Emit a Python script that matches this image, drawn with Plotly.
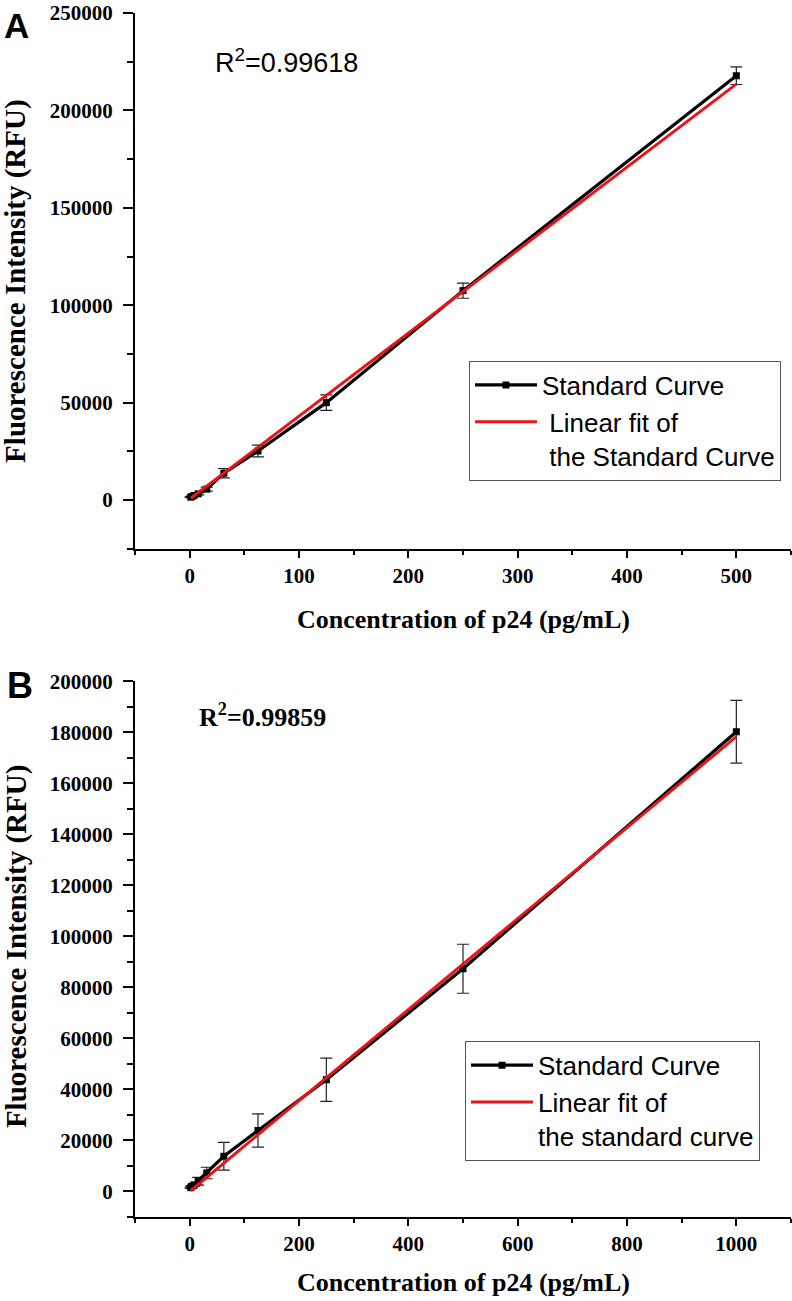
import plotly.graph_objects as go

# ---------------- data ----------------
conc_a = [0.98, 1.95, 3.9, 7.8, 15.6, 31.25, 62.5, 125, 250, 500]
rfu_a = [1500, 1800, 2300, 3200, 5600, 13800, 25200, 50000, 107500, 217800]
err_a = [300, 300, 400, 500, 1000, 2400, 3000, 4000, 3900, 4500]
fit_x_a = [0.98, 500]
fit_y_a = [900, 213500]

conc_b = [1.95, 3.9, 7.8, 15.6, 31.25, 62.5, 125, 250, 500, 1000]
rfu_b = [1500, 1900, 2600, 4000, 7250, 13800, 23900, 43800, 87300, 180200]
err_b = [300, 400, 600, 1500, 2250, 5450, 6500, 8450, 9600, 12300]
fit_x_b = [1.95, 1000]
fit_y_b = [300, 178300]

# ---------------- geometry helpers ----------------
W, H = 792, 1301
ML, MR, MT, MB = 135, 1, 8, 84
PW, PH = W - ML - MR, H - MT - MB


def px(x):
    return (x - ML) / PW


def py(y):
    return (H - MB - y) / PH


SERIF = "Liberation Serif, Times New Roman, serif"
SANS = "Liberation Sans, Arial, sans-serif"

fig = go.Figure()

# Panel A
fig.add_trace(go.Scatter(
    x=conc_a, y=rfu_a, mode="lines+markers", name="Standard Curve",
    line=dict(color="black", width=3.2),
    marker=dict(symbol="square", size=7, color="black"),
    error_y=dict(type="data", array=err_a, visible=True, color="#222", thickness=1.2, width=6),
    xaxis="x", yaxis="y", legend="legend"))
fig.add_trace(go.Scatter(
    x=fit_x_a, y=fit_y_a, mode="lines",
    name="\u00a0Linear fit of<br>\u00a0the Standard Curve",
    line=dict(color="#e8141b", width=3),
    xaxis="x", yaxis="y", legend="legend"))

# Panel B
fig.add_trace(go.Scatter(
    x=conc_b, y=rfu_b, mode="lines+markers", name="Standard Curve",
    line=dict(color="black", width=3.2),
    marker=dict(symbol="square", size=7, color="black"),
    error_y=dict(type="data", array=err_b, visible=True, color="#222", thickness=1.2, width=6),
    xaxis="x2", yaxis="y2", legend="legend2"))
fig.add_trace(go.Scatter(
    x=fit_x_b, y=fit_y_b, mode="lines",
    name="Linear fit of<br>the standard curve",
    line=dict(color="#e8141b", width=3),
    xaxis="x2", yaxis="y2", legend="legend2"))

tickfont = dict(family=SERIF, size=21, color="black", weight="bold")


def xaxis_cfg(rng, dtick, mdtick, anchor):
    return dict(range=rng, dtick=dtick, tick0=0, showline=True, linecolor="black", linewidth=2,
                ticks="outside", ticklen=7, tickwidth=2, tickcolor="black",
                minor=dict(dtick=mdtick, tick0=0, ticks="outside", ticklen=4, tickwidth=2, tickcolor="black"),
                showgrid=False, zeroline=False, tickfont=tickfont, anchor=anchor,
                tickformat="d", domain=[0, 1])


def yaxis_cfg(rng, dtick, mdtick, anchor, dom):
    return dict(range=rng, dtick=dtick, tick0=0, showline=True, linecolor="black", linewidth=2,
                ticks="outside", ticklen=10, tickwidth=2, tickcolor="black",
                minor=dict(dtick=mdtick, tick0=0, ticks="outside", ticklen=6, tickwidth=2, tickcolor="black"),
                showgrid=False, zeroline=False, tickfont=tickfont, anchor=anchor,
                tickformat="d", domain=dom, ticklabelstandoff=6)


legend_common = dict(xanchor="left", yanchor="top", bordercolor="#555", borderwidth=1,
                     bgcolor="white", font=dict(family=SANS, size=26, color="black"),
                     itemwidth=62, valign="top", tracegroupgap=0)

fig.update_layout(
    width=W, height=H,
    margin=dict(l=ML, r=MR, t=MT, b=MB),
    paper_bgcolor="white", plot_bgcolor="white",
    xaxis=xaxis_cfg([-50, 550], 100, 50, "y"),
    yaxis=yaxis_cfg([-25000, 250000], 50000, 25000, "x", [py(546), py(8)]),
    xaxis2=xaxis_cfg([-100, 1100], 200, 100, "y2"),
    yaxis2=yaxis_cfg([-10000, 200000], 20000, 10000, "x2", [py(1217), py(679)]),
    legend=dict(x=px(469), y=py(357), **legend_common),
    legend2=dict(x=px(465), y=py(1040), **legend_common),
    showlegend=True,
)

annots = [
    dict(text="A", x=px(16), y=py(21), font=dict(family=SANS, size=35, color="black", weight="bold")),
    dict(text="B", x=px(20), y=py(683), font=dict(family=SANS, size=36, color="black", weight="bold")),
    dict(text="R<sup>2</sup>=0.99618", x=px(286), y=py(56), font=dict(family=SANS, size=27, color="black")),
    dict(text="R<sup>2</sup>=0.99859", x=px(262), y=py(713),
         font=dict(family=SERIF, size=26, color="black", weight="bold")),
    dict(text="Concentration of p24 (pg/mL)", x=px(463), y=py(617),
         font=dict(family=SERIF, size=26, color="black", weight="bold")),
    dict(text="Concentration of p24 (pg/mL)", x=px(463), y=py(1283),
         font=dict(family=SERIF, size=26, color="black", weight="bold")),
    dict(text="Fluorescence Intensity (RFU)", x=px(16), y=py(277), textangle=-90,
         font=dict(family=SERIF, size=29, color="black", weight="bold")),
    dict(text="Fluorescence Intensity (RFU)", x=px(16), y=py(945), textangle=-90,
         font=dict(family=SERIF, size=29, color="black", weight="bold")),
]
for a in annots:
    a.update(xref="paper", yref="paper", showarrow=False, xanchor="center", yanchor="middle")
fig.update_layout(annotations=annots)

fig.write_html("out.html", config={"displayModeBar": False},
               post_script="document.body.style.margin='0';document.body.style.overflow='hidden';")
